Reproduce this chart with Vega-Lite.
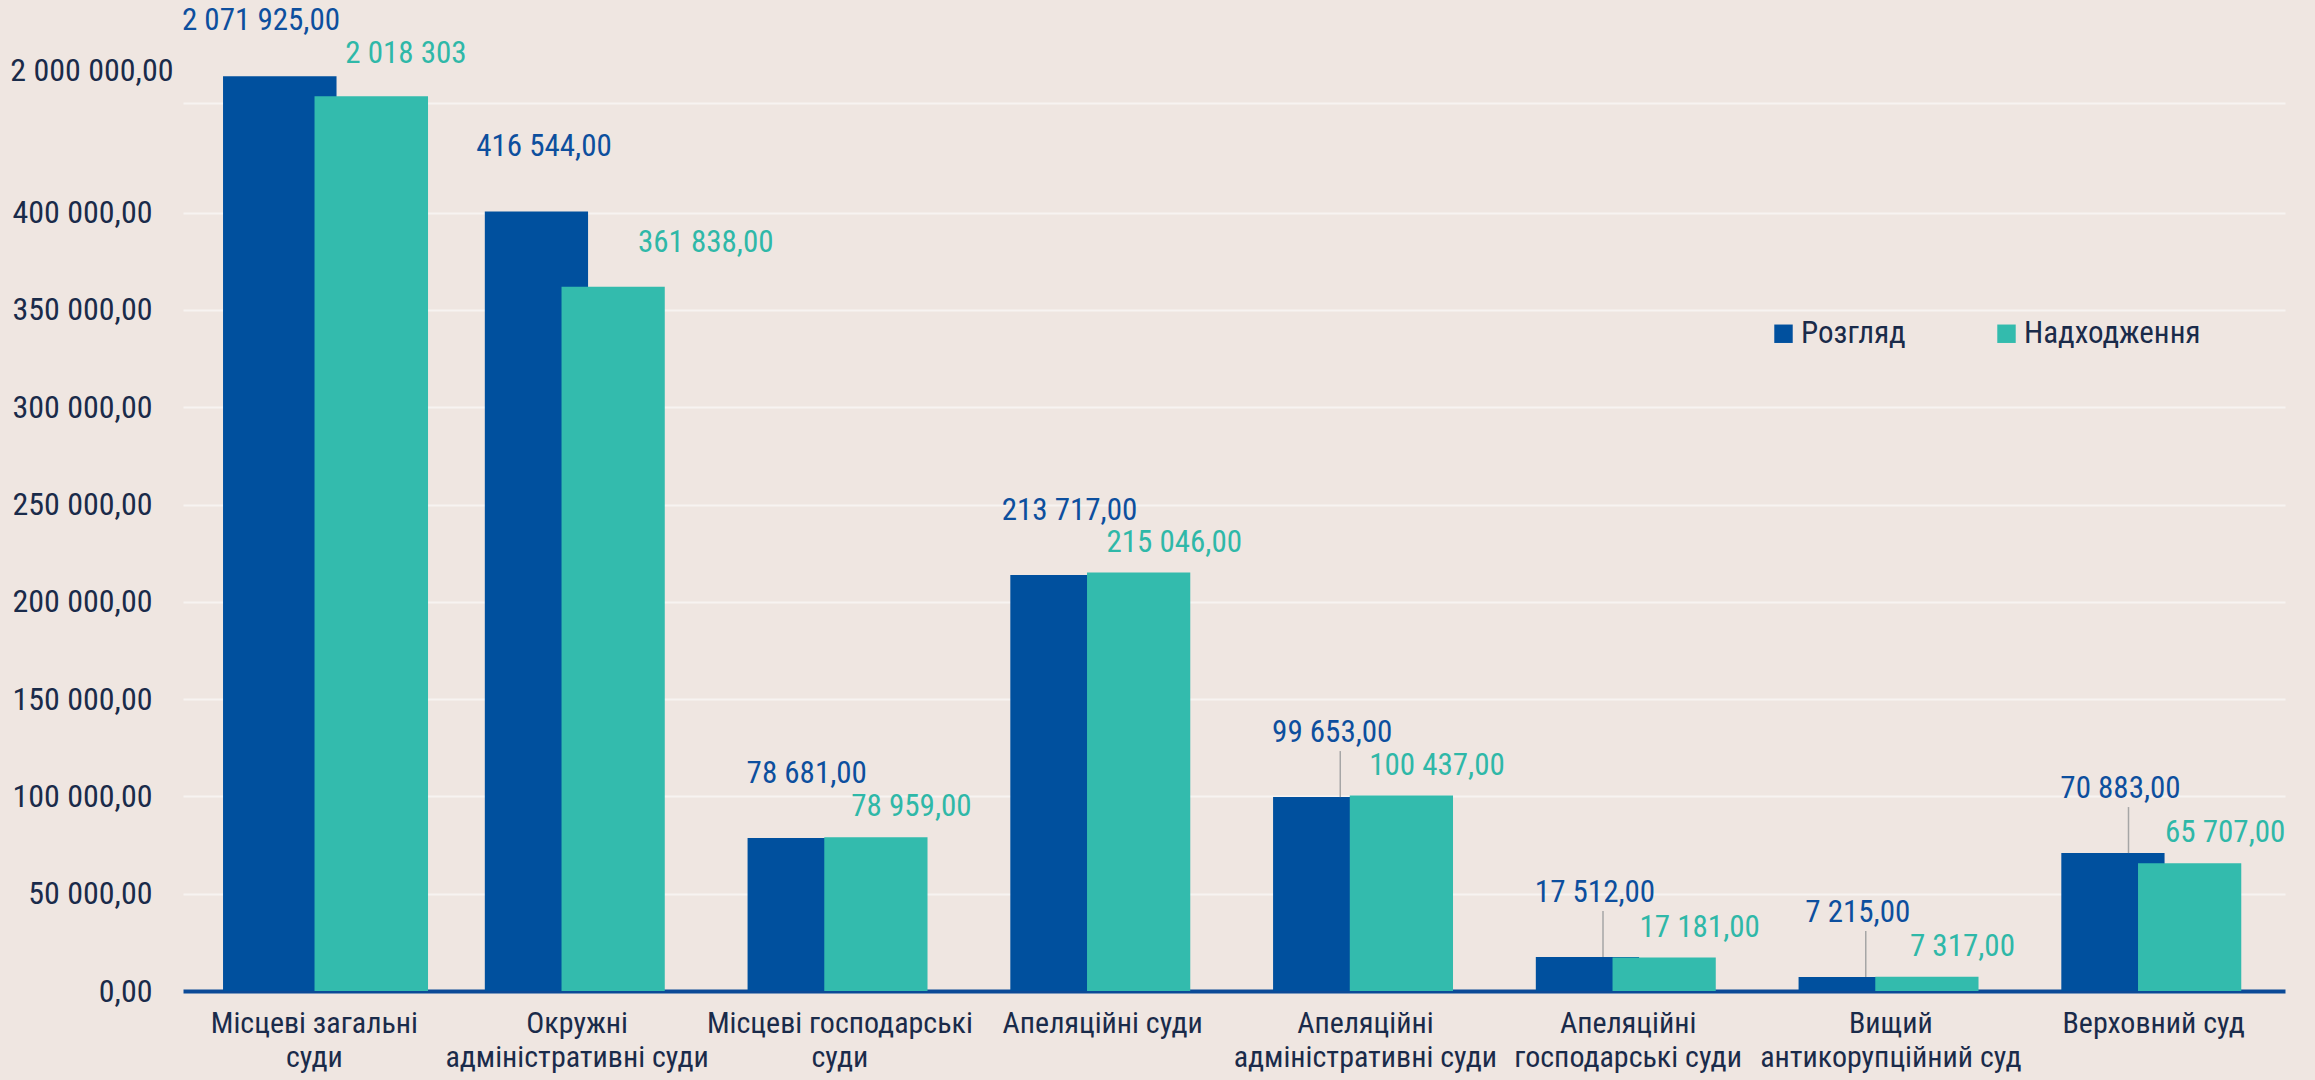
{
  "$schema": "https://vega.github.io/schema/vega-lite/v6.json",
  "autosize": {"type": "none"},
  "width": 2102,
  "height": 981,
  "padding": {"left": 183, "top": 10, "right": 30, "bottom": 89},
  "background": "#EFE6E1",
  "config": {"view": {"stroke": null}, "font": "'Roboto Condensed', 'DejaVu Sans Condensed', Roboto, sans-serif"},
  "data": {"values": [
    {"court": "Місцеві загальні суди", "series": "Розгляд", "value": 2071925},
    {"court": "Місцеві загальні суди", "series": "Надходження", "value": 2018303},
    {"court": "Окружні адміністративні суди", "series": "Розгляд", "value": 416544},
    {"court": "Окружні адміністративні суди", "series": "Надходження", "value": 361838},
    {"court": "Місцеві господарські суди", "series": "Розгляд", "value": 78681},
    {"court": "Місцеві господарські суди", "series": "Надходження", "value": 78959},
    {"court": "Апеляційні суди", "series": "Розгляд", "value": 213717},
    {"court": "Апеляційні суди", "series": "Надходження", "value": 215046},
    {"court": "Апеляційні адміністративні суди", "series": "Розгляд", "value": 99653},
    {"court": "Апеляційні адміністративні суди", "series": "Надходження", "value": 100437},
    {"court": "Апеляційні господарські суди", "series": "Розгляд", "value": 17512},
    {"court": "Апеляційні господарські суди", "series": "Надходження", "value": 17181},
    {"court": "Вищий антикорупційний суд", "series": "Розгляд", "value": 7215},
    {"court": "Вищий антикорупційний суд", "series": "Надходження", "value": 7317},
    {"court": "Верховний суд", "series": "Розгляд", "value": 70883},
    {"court": "Верховний суд", "series": "Надходження", "value": 65707}
  ]},
  "encoding": {
    "x": {
      "field": "court", "type": "nominal",
      "sort": ["Місцеві загальні суди", "Окружні адміністративні суди", "Місцеві господарські суди", "Апеляційні суди", "Апеляційні адміністративні суди", "Апеляційні господарські суди", "Вищий антикорупційний суд", "Верховний суд"],
      "scale": {"paddingInner": 0.3657, "paddingOuter": 0.18285, "align": 0.5687},
      "axis": {
        "title": null, "labelAngle": 0, "ticks": false, "grid": false,
        "domainColor": "#0B4A97", "domainWidth": 4,
        "labelFontSize": 30, "labelPadding": 17, "labelLineHeight": 34, "labelLimit": 0, "labelOffset": -6.6,
        "labelBaseline": "top", "labelColor": "#1A2B4A",
        "labelExpr": "datum.value == 'Місцеві загальні суди' ? ['Місцеві загальні', 'суди'] : datum.value == 'Окружні адміністративні суди' ? ['Окружні', 'адміністративні суди'] : datum.value == 'Місцеві господарські суди' ? ['Місцеві господарські', 'суди'] : datum.value == 'Апеляційні адміністративні суди' ? ['Апеляційні', 'адміністративні суди'] : datum.value == 'Апеляційні господарські суди' ? ['Апеляційні', 'господарські суди'] : datum.value == 'Вищий антикорупційний суд' ? ['Вищий', 'антикорупційний суд'] : datum.label"
      }
    },
    "y": {
      "field": "value", "type": "quantitative",
      "scale": {"domain": [0, 400000, 2000000, 2249597], "range": [981, 202.6, 93, 0], "nice": false, "zero": false},
      "axis": {
        "title": null, "domain": false, "ticks": false,
        "values": [0, 50000, 100000, 150000, 200000, 250000, 300000, 350000, 400000, 2000000],
        "labelExpr": "replace(replace(replace(format(datum.value, ',.2f'), ',', ' '), ',', ' '), '.', ',')",
        "labelFontSize": 32, "labelColor": "#1A2B4A", "labelLimit": 0,
        "labelPadding": {"condition": {"test": "datum.value == 2000000", "value": 10}, "value": 31},
        "labelOffset": {"condition": {"test": "datum.value == 2000000", "value": -33}, "value": 0},
        "gridColor": "#F7F3F1", "gridWidth": 2
      }
    },
    "color": {
      "field": "series", "type": "nominal",
      "scale": {"domain": ["Розгляд", "Надходження"], "range": ["#00509E", "#33BBAD"]},
      "legend": {
        "orient": "none", "legendX": 1585, "legendY": 308, "direction": "horizontal",
        "title": null, "symbolType": "square", "symbolSize": 340, "symbolStrokeWidth": 0,
        "labelFontSize": 31, "labelColor": "#1A2B4A", "columnPadding": 85, "labelOffset": 2, "labelLimit": 0
      }
    }
  },
  "layer": [
    {
      "transform": [{"filter": "datum.court != 'Місцеві загальні суди'"}],
      "mark": {"type": "bar", "width": {"band": 1.346}},
      "encoding": {"xOffset": {"field": "series", "type": "nominal", "sort": ["Розгляд", "Надходження"], "scale": {"paddingInner": 0, "paddingOuter": 0.0864, "align": 1}}}
    },
    {
      "transform": [{"filter": "datum.court == 'Місцеві загальні суди' && datum.series == 'Розгляд'"}],
      "mark": {"type": "bar", "width": {"band": 0.681}, "xOffset": -41.2}
    },
    {
      "transform": [{"filter": "datum.court == 'Місцеві загальні суди' && datum.series == 'Надходження'"}],
      "mark": {"type": "bar", "width": {"band": 0.681}, "xOffset": 50.3}
    },
    {
      "transform": [
        {"filter": "datum.series == 'Розгляд' && indexof(['Апеляційні адміністративні суди', 'Апеляційні господарські суди', 'Вищий антикорупційний суд', 'Верховний суд'], datum.court) >= 0"}
      ],
      "mark": {"type": "rule", "strokeWidth": 1.5, "y2Offset": -46},
      "encoding": {
        "xOffset": {"field": "series", "type": "nominal", "sort": ["Розгляд", "Надходження"]},
        "y2": {"field": "value"}, "color": {"value": "#A6A6A6"}
      }
    },
    {
      "transform": [
        {"filter": "datum.series == 'Розгляд' && datum.court != 'Місцеві загальні суди'"},
        {"calculate": "replace(replace(replace(format(datum.value, ',.2f'), ',', ' '), ',', ' '), '.', ',')", "as": "label"}
      ],
      "mark": {"type": "text", "fontSize": 31, "baseline": "middle", "dy": -64, "dx": -8},
      "encoding": {
        "xOffset": {"field": "series", "type": "nominal", "sort": ["Розгляд", "Надходження"]},
        "text": {"field": "label"}, "color": {"value": "#0D4F9E"}
      }
    },
    {
      "transform": [
        {"filter": "datum.series == 'Надходження' && datum.court != 'Місцеві загальні суди' && datum.court != 'Окружні адміністративні суди'"},
        {"calculate": "replace(replace(replace(format(datum.value, ',.2f'), ',', ' '), ',', ' '), '.', ',')", "as": "label"}
      ],
      "mark": {"type": "text", "fontSize": 31, "baseline": "middle", "dy": -30, "dx": 20},
      "encoding": {
        "xOffset": {"field": "series", "type": "nominal", "sort": ["Розгляд", "Надходження"]},
        "text": {"field": "label"}, "color": {"value": "#2FB8A8"}
      }
    },
    {
      "transform": [
        {"filter": "datum.series == 'Надходження' && datum.court == 'Окружні адміністративні суди'"},
        {"calculate": "replace(replace(replace(format(datum.value, ',.2f'), ',', ' '), ',', ' '), '.', ',')", "as": "label"}
      ],
      "mark": {"type": "text", "fontSize": 31, "baseline": "middle", "dy": -44, "dx": 77},
      "encoding": {
        "xOffset": {"field": "series", "type": "nominal", "sort": ["Розгляд", "Надходження"]},
        "text": {"field": "label"}, "color": {"value": "#2FB8A8"}
      }
    },
    {
      "transform": [
        {"filter": "datum.series == 'Розгляд' && datum.court == 'Місцеві загальні суди'"},
        {"calculate": "replace(replace(replace(format(datum.value, ',.2f'), ',', ' '), ',', ' '), '.', ',')", "as": "label"}
      ],
      "mark": {"type": "text", "fontSize": 31, "baseline": "middle", "dy": -55, "dx": -60},
      "encoding": {"text": {"field": "label"}, "color": {"value": "#0D4F9E"}}
    },
    {
      "transform": [
        {"filter": "datum.series == 'Надходження' && datum.court == 'Місцеві загальні суди'"},
        {"calculate": "replace(replace(format(datum.value, ',d'), ',', ' '), ',', ' ')", "as": "label"}
      ],
      "mark": {"type": "text", "fontSize": 31, "baseline": "middle", "dy": -42, "dx": 85},
      "encoding": {"text": {"field": "label"}, "color": {"value": "#2FB8A8"}}
    }
  ]
}
